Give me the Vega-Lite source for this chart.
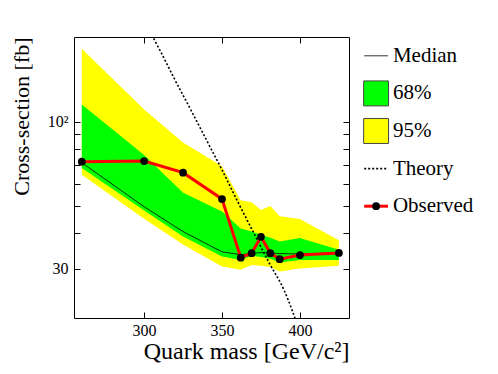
{
  "$schema": "https://vega.github.io/schema/vega-lite/v6.json",
  "padding": {"left": 9, "top": 36, "right": 0, "bottom": 0},
  "background": "white",
  "spacing": 10,
  "config": {
    "font": "Liberation Serif",
    "view": {"stroke": "black", "strokeWidth": 1},
    "axis": {"labelFont": "Liberation Serif", "titleFont": "Liberation Serif", "labelColor": "black", "titleColor": "black", "tickColor": "black", "titleFontWeight": "normal", "grid": false, "domain": false, "tickWidth": 1}
  },
  "datasets": {
    "limits": [
      {"m": 260, "lo95": 64.7, "lo68": 68.4, "med": 71.4, "hi68": 115, "hi95": 181.6, "obs": 72.0},
      {"m": 300, "lo95": 45.1, "lo68": 48.3, "med": 49.8, "hi68": 76.0, "hi95": 110.4, "obs": 72.4},
      {"m": 325, "lo95": 36.5, "lo68": 39.0, "med": 40.6, "hi68": 55.8, "hi95": 84.2, "obs": 65.8},
      {"m": 350, "lo95": 30.5, "lo68": 33.1, "med": 34.4, "hi68": 47.9, "hi95": 69.3, "obs": 53.0},
      {"m": 362, "lo95": 29.7, "lo68": 32.2, "med": 33.6, "hi68": 41.6, "hi95": 52.5, "obs": 32.8},
      {"m": 369, "lo95": 30.9, "lo68": 33.3, "med": 33.9, "hi68": 40.6, "hi95": 51.6, "obs": 34.0},
      {"m": 375, "lo95": 30.7, "lo68": 33.0, "med": 34.2, "hi68": 39.6, "hi95": 48.5, "obs": 38.9},
      {"m": 381, "lo95": 30.4, "lo68": 32.5, "med": 34.1, "hi68": 38.6, "hi95": 50.1, "obs": 34.0},
      {"m": 387, "lo95": 29.3, "lo68": 31.5, "med": 33.9, "hi68": 37.4, "hi95": 46.0, "obs": 32.4},
      {"m": 400, "lo95": 30.0, "lo68": 32.2, "med": 33.8, "hi68": 38.5, "hi95": 45.0, "obs": 33.5},
      {"m": 425, "lo95": 30.7, "lo68": 32.2, "med": 34.1, "hi68": 35.0, "hi95": 37.8, "obs": 34.1}
    ],
    "theory": [
      {"m": 300, "xs": 228},
      {"m": 310, "xs": 180},
      {"m": 320, "xs": 140},
      {"m": 330, "xs": 110},
      {"m": 340, "xs": 86},
      {"m": 350, "xs": 67.3},
      {"m": 360, "xs": 52},
      {"m": 370, "xs": 40.5},
      {"m": 380, "xs": 31.6},
      {"m": 390, "xs": 25.0},
      {"m": 400, "xs": 17.8}
    ],
    "legend": [
      {"item": "Median"},
      {"item": "68%"},
      {"item": "95%"},
      {"item": "Theory"},
      {"item": "Observed"}
    ]
  },
  "hconcat": [
    {
      "width": 275,
      "height": 281,
      "layer": [
        {
          "data": {"name": "limits"},
          "mark": {"type": "area", "color": "#ffff00", "opacity": 1},
          "encoding": {
            "x": {"field": "m", "type": "quantitative", "scale": {"domain": [255, 431.5], "nice": false, "zero": false},
              "axis": {"orient": "bottom", "values": [300, 350, 400], "tickSize": -6, "labelFontSize": 16, "labelPadding": 10, "title": "Quark mass [GeV/c²]", "titleFontSize": 24, "titleAnchor": "end", "titlePadding": 1}},
            "y": {"field": "lo95", "type": "quantitative", "scale": {"type": "log", "domain": [20, 200], "nice": false},
              "axis": {"orient": "left", "values": [30, 40, 50, 60, 70, 80, 90, 100], "labelExpr": "datum.value == 100 ? '10²' : datum.value == 30 ? '30' : ''", "tickSize": -6, "labelFontSize": 16, "labelPadding": 12, "title": "Cross-section [fb]", "titleFontSize": 22, "titleAnchor": "end", "titlePadding": 14}},
            "y2": {"field": "hi95"}
          }
        },
        {
          "data": {"name": "limits"},
          "mark": {"type": "area", "color": "#00ff00", "opacity": 1},
          "encoding": {
            "x": {"field": "m", "type": "quantitative",
              "axis": {"orient": "top", "values": [300, 350, 400], "tickSize": -6, "labels": false, "title": null}},
            "y": {"field": "lo68", "type": "quantitative",
              "axis": {"orient": "right", "values": [30, 40, 50, 60, 70, 80, 90, 100], "tickSize": -6, "labels": false, "title": null}},
            "y2": {"field": "hi68"}
          }
        },
        {
          "data": {"name": "limits"},
          "mark": {"type": "line", "color": "black", "strokeWidth": 0.8},
          "encoding": {
            "x": {"field": "m", "type": "quantitative", "axis": null},
            "y": {"field": "med", "type": "quantitative", "axis": null}
          }
        },
        {
          "data": {"name": "theory"},
          "mark": {"type": "line", "color": "black", "strokeWidth": 1.6, "strokeDash": [2, 2], "clip": true, "interpolate": "monotone"},
          "encoding": {
            "x": {"field": "m", "type": "quantitative", "axis": null},
            "y": {"field": "xs", "type": "quantitative", "axis": null}
          }
        },
        {
          "data": {"name": "limits"},
          "mark": {"type": "line", "color": "#ff0000", "strokeWidth": 3},
          "encoding": {
            "x": {"field": "m", "type": "quantitative", "axis": null},
            "y": {"field": "obs", "type": "quantitative", "axis": null}
          }
        },
        {
          "data": {"name": "limits"},
          "mark": {"type": "circle", "color": "black", "size": 60, "opacity": 1},
          "encoding": {
            "x": {"field": "m", "type": "quantitative", "axis": null},
            "y": {"field": "obs", "type": "quantitative", "axis": null}
          }
        }
      ],
      "resolve": {"axis": {"x": "independent", "y": "independent"}}
    },
    {
      "width": 140,
      "height": 188,
      "view": {"stroke": null},
      "data": {"name": "legend"},
      "encoding": {
        "y": {"field": "item", "type": "nominal", "scale": {"type": "point", "domain": ["Median", "68%", "95%", "Theory", "Observed"]}, "axis": null}
      },
      "layer": [
        {
          "transform": [{"filter": "datum.item == 'Median'"}],
          "mark": {"type": "rule", "color": "black", "strokeWidth": 0.8},
          "encoding": {
            "x": {"datum": 0.03, "type": "quantitative", "scale": {"domain": [0, 1]}, "axis": null},
            "x2": {"datum": 0.2}
          }
        },
        {
          "transform": [{"filter": "datum.item == 'Theory'"}],
          "mark": {"type": "rule", "color": "black", "strokeWidth": 1.6, "strokeDash": [2, 2]},
          "encoding": {
            "x": {"datum": 0.03, "type": "quantitative", "axis": null},
            "x2": {"datum": 0.2}
          }
        },
        {
          "transform": [{"filter": "datum.item == 'Observed'"}],
          "mark": {"type": "rule", "color": "#ff0000", "strokeWidth": 3},
          "encoding": {
            "x": {"datum": 0.03, "type": "quantitative", "axis": null},
            "x2": {"datum": 0.2}
          }
        },
        {
          "transform": [{"filter": "datum.item == 'Observed'"}],
          "mark": {"type": "circle", "color": "black", "size": 60, "opacity": 1},
          "encoding": {
            "x": {"datum": 0.115, "type": "quantitative", "axis": null}
          }
        },
        {
          "transform": [{"filter": "datum.item == '68%' || datum.item == '95%'"}],
          "mark": {"type": "square", "filled": true, "size": 620, "stroke": "#444444", "strokeWidth": 1, "opacity": 1},
          "encoding": {
            "x": {"datum": 0.115, "type": "quantitative", "axis": null},
            "fill": {"field": "item", "type": "nominal", "scale": {"domain": ["68%", "95%"], "range": ["#00ff00", "#ffff00"]}, "legend": null}
          }
        },
        {
          "mark": {"type": "text", "align": "left", "baseline": "middle", "fontSize": 21, "font": "Liberation Serif", "color": "black"},
          "encoding": {
            "x": {"datum": 0.235, "type": "quantitative", "axis": null},
            "text": {"field": "item"}
          }
        }
      ]
    }
  ]
}
